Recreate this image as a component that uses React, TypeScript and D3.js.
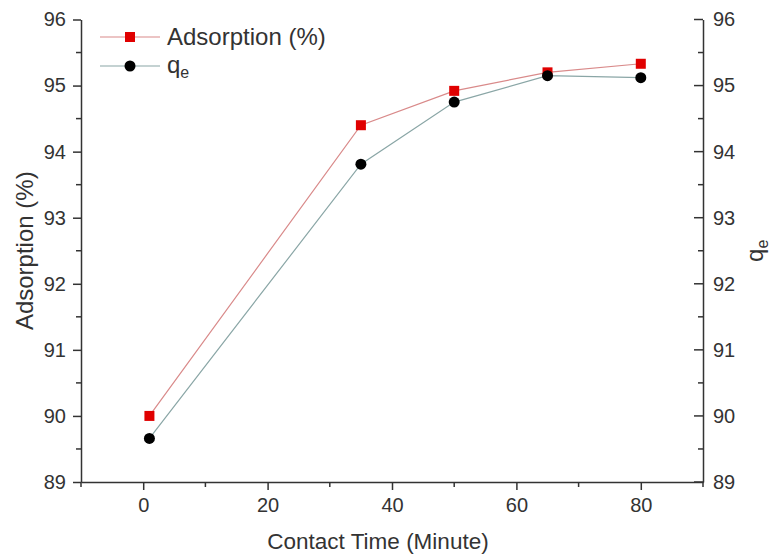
import React, { useEffect, useRef } from "react";
import * as d3 from "d3";

const contactTime = [1, 35, 50, 65, 80];
const adsorption = [90.0, 94.4, 94.92, 95.2, 95.33];
const qe = [89.66, 93.81, 94.75, 95.15, 95.12];
const xTicks = [0, 20, 40, 60, 80];
const yTicks = [89, 90, 91, 92, 93, 94, 95, 96];

const FONT = "'Liberation Sans', Arial, Helvetica, sans-serif";
const TEXT = "#333";

const App = () => {
  const svgRef = useRef<SVGSVGElement>(null);

  useEffect(() => {
    const width = 770;
    const height = 560;
    const left = 81, right = 703, top = 19.5, bottom = 482;

    const svg = d3.select(svgRef.current)
      .attr("width", width)
      .attr("height", height);
    svg.selectAll("*").remove();

    const x = d3.scaleLinear().domain([-10, 90]).range([left, right]);
    const y = d3.scaleLinear().domain([89, 96]).range([bottom, top]);
    const fmt = d3.format("d");

    const minorX = d3.range(-10, 91, 10).filter(v => !xTicks.includes(v));
    const minorY = d3.range(89.5, 96, 1);

    // bottom axis
    svg.append("g")
      .attr("transform", `translate(0,${bottom})`)
      .call(d3.axisBottom(x).tickValues(xTicks).tickFormat(fmt).tickSize(8).tickPadding(8).tickSizeOuter(0))
      .call(g => g.selectAll(".minorB").data(minorX).join("line")
        .attr("class", "minorB")
        .attr("x1", d => x(d)).attr("x2", d => x(d))
        .attr("y1", 0).attr("y2", 5));

    // left axis
    svg.append("g")
      .attr("transform", `translate(${left},0)`)
      .call(d3.axisLeft(y).tickValues(yTicks).tickFormat(fmt).tickSize(8).tickPadding(7).tickSizeOuter(0))
      .call(g => g.selectAll(".minorL").data(minorY).join("line")
        .attr("class", "minorL")
        .attr("y1", d => y(d)).attr("y2", d => y(d))
        .attr("x1", 0).attr("x2", -5));

    // right axis (ticks point inward)
    svg.append("g")
      .attr("transform", `translate(${right},0)`)
      .call(d3.axisRight(y).tickValues(yTicks).tickFormat(fmt).tickSize(0).tickPadding(10).tickSizeOuter(0))
      .call(g => g.selectAll(".majR").data(yTicks).join("line")
        .attr("class", "majR")
        .attr("y1", d => y(d)).attr("y2", d => y(d))
        .attr("x1", 0).attr("x2", -9))
      .call(g => g.selectAll(".minorR").data(minorY).join("line")
        .attr("class", "minorR")
        .attr("y1", d => y(d)).attr("y2", d => y(d))
        .attr("x1", 0).attr("x2", -5));

    svg.selectAll(".domain").attr("stroke", TEXT).attr("stroke-width", 1.5);
    svg.selectAll(".tick line, .minorL, .minorR, .majR, .minorB")
      .attr("stroke", TEXT).attr("stroke-width", 1.5);
    svg.selectAll(".tick text")
      .attr("fill", TEXT)
      .style("font-family", FONT)
      .style("font-size", "20px");

    // series
    const adsPts = contactTime.map((t, i) => [t, adsorption[i]] as [number, number]);
    const qePts = contactTime.map((t, i) => [t, qe[i]] as [number, number]);
    const line = d3.line<[number, number]>().x(d => x(d[0])).y(d => y(d[1]));

    svg.append("path")
      .attr("d", line(adsPts))
      .attr("fill", "none")
      .attr("stroke", "#d98a8a")
      .attr("stroke-width", 1.2);

    svg.append("path")
      .attr("d", line(qePts))
      .attr("fill", "none")
      .attr("stroke", "#8aa6a6")
      .attr("stroke-width", 1.2);

    const sq = 10;
    svg.selectAll(".ads")
      .data(adsPts)
      .join("rect")
      .attr("class", "ads")
      .attr("x", d => x(d[0]) - sq / 2)
      .attr("y", d => y(d[1]) - sq / 2)
      .attr("width", sq).attr("height", sq)
      .attr("fill", "#e00000");

    svg.selectAll(".qe")
      .data(qePts)
      .join("circle")
      .attr("class", "qe")
      .attr("cx", d => x(d[0]))
      .attr("cy", d => y(d[1]))
      .attr("r", 5.5)
      .attr("fill", "#000");

    // legend
    const lg = svg.append("g");
    lg.append("line").attr("x1", 100).attr("x2", 160).attr("y1", 37).attr("y2", 37)
      .attr("stroke", "#d98a8a").attr("stroke-width", 1.2);
    lg.append("rect").attr("x", 130 - sq / 2).attr("y", 37 - sq / 2)
      .attr("width", sq).attr("height", sq).attr("fill", "#e00000");
    lg.append("text").attr("x", 167).attr("y", 45)
      .attr("fill", TEXT).style("font-family", FONT).style("font-size", "24px")
      .text("Adsorption (%)");

    lg.append("line").attr("x1", 100).attr("x2", 160).attr("y1", 66).attr("y2", 66)
      .attr("stroke", "#8aa6a6").attr("stroke-width", 1.2);
    lg.append("circle").attr("cx", 130).attr("cy", 66).attr("r", 5.5).attr("fill", "#000");
    const qt = lg.append("text").attr("x", 167).attr("y", 73)
      .attr("fill", TEXT).style("font-family", FONT).style("font-size", "24px");
    qt.append("tspan").text("q");
    qt.append("tspan").attr("dy", 5).style("font-size", "16px").text("e");

    // axis titles
    svg.append("text")
      .attr("x", (left + right) / 2 - 14)
      .attr("y", 549)
      .attr("text-anchor", "middle")
      .attr("fill", TEXT).style("font-family", FONT).style("font-size", "22.5px")
      .text("Contact Time (Minute)");

    svg.append("text")
      .attr("transform", `translate(33,${(top + bottom) / 2}) rotate(-90)`)
      .attr("text-anchor", "middle")
      .attr("fill", TEXT).style("font-family", FONT).style("font-size", "24px")
      .text("Adsorption (%)");

    const rt = svg.append("text")
      .attr("transform", `translate(763,${(top + bottom) / 2}) rotate(-90)`)
      .attr("text-anchor", "middle")
      .attr("fill", TEXT).style("font-family", FONT).style("font-size", "24px");
    rt.append("tspan").text("q");
    rt.append("tspan").attr("dy", 5).style("font-size", "16px").text("e");
  }, []);

  return (
    <svg ref={svgRef} style={{ position: "absolute", left: 0, top: 0, background: "#fff" }}></svg>
  );
};

export default App;
